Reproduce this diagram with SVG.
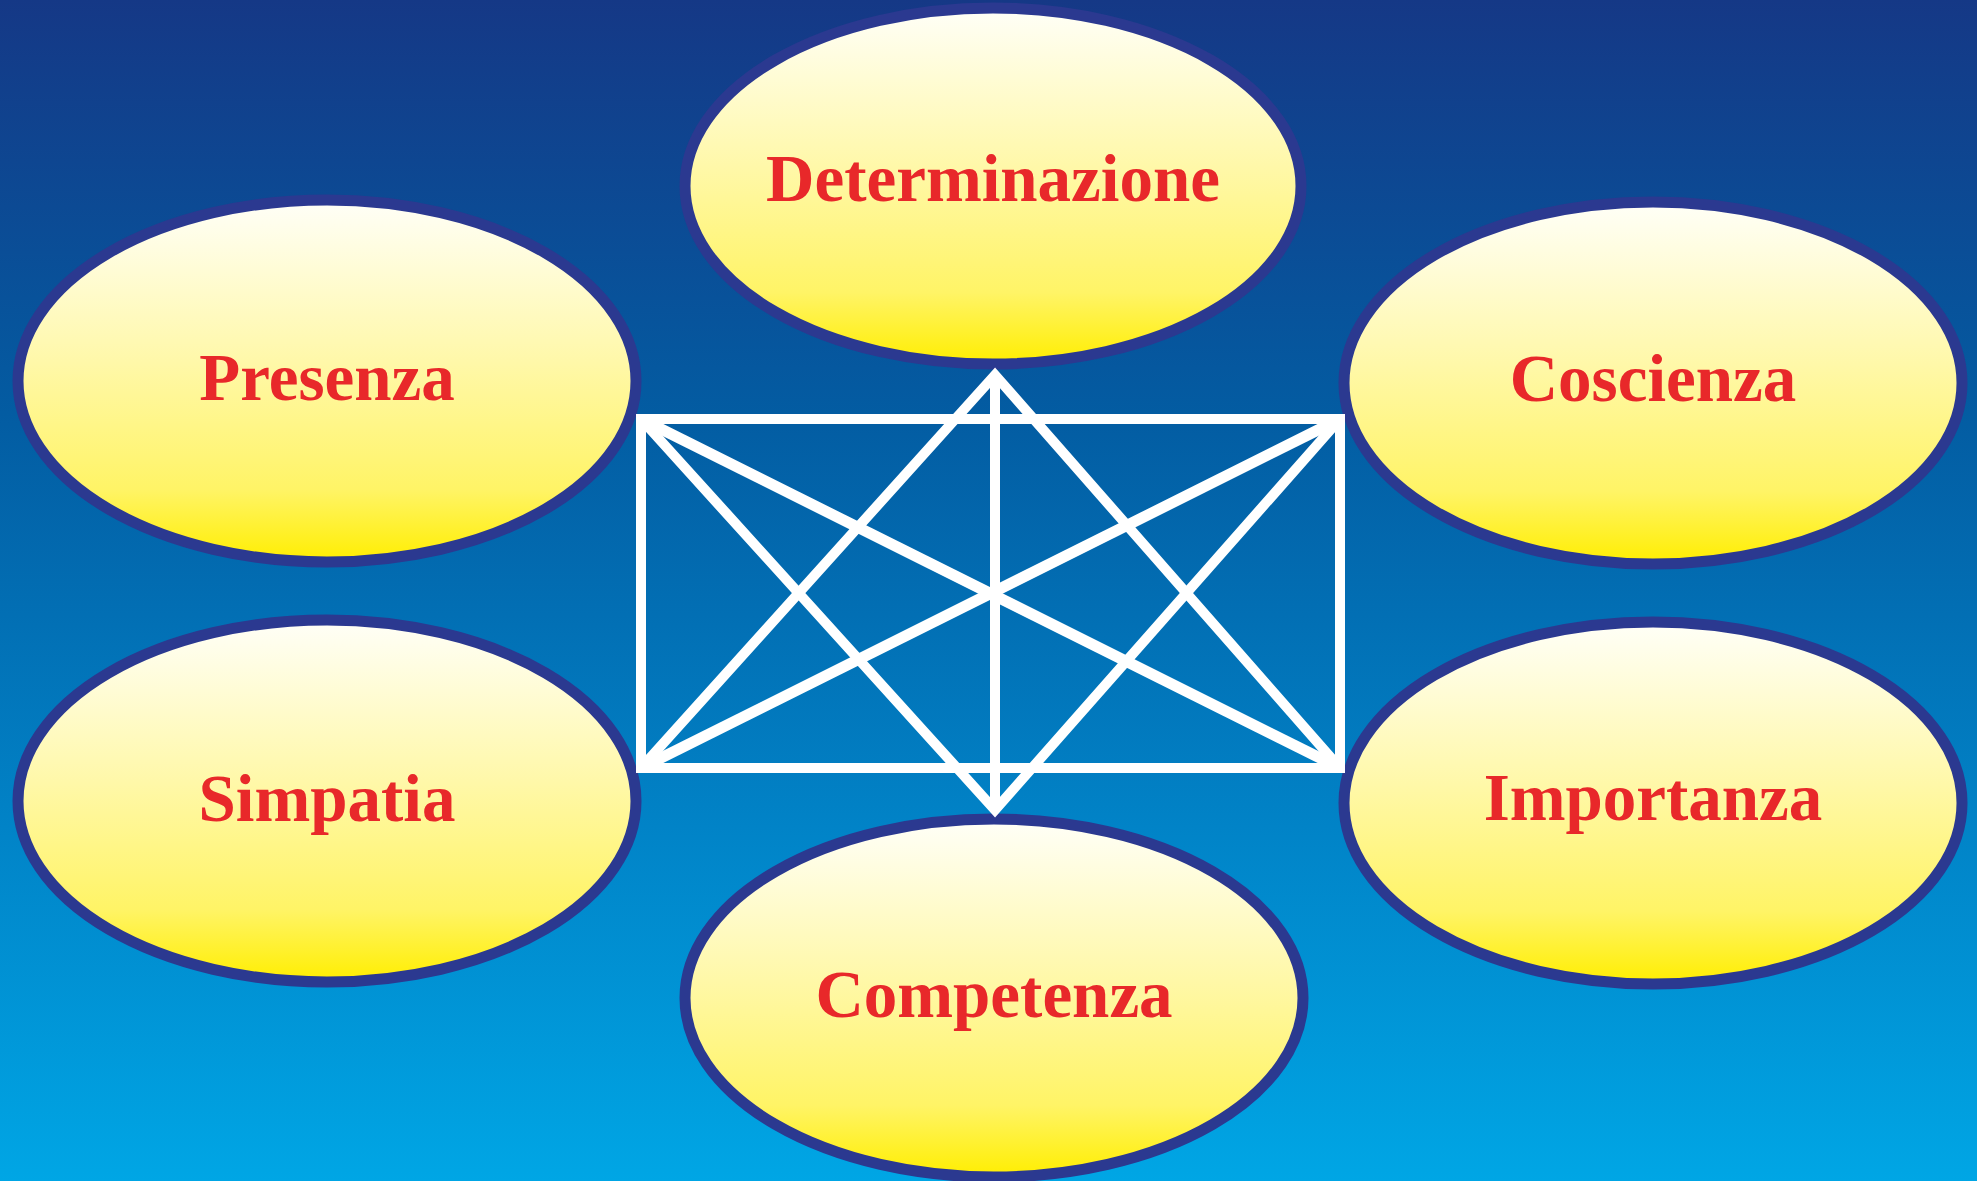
<svg xmlns="http://www.w3.org/2000/svg" width="1977" height="1181" viewBox="0 0 1977 1181">
<style>
.node ellipse{fill:url(#yel);stroke:#2B3990;stroke-width:11}
.node text{font-family:"Liberation Serif","Times New Roman",serif;font-weight:bold;font-size:67px;fill:#E8282A;text-anchor:middle}
#connectors *{fill:none;stroke:#FFFFFF;stroke-width:10;stroke-linejoin:miter;stroke-miterlimit:2}
#connectors .diag{stroke-width:11}
</style>
<defs>
<linearGradient id="bg" x1="0" y1="0" x2="0" y2="1">
<stop offset="0" stop-color="#153886"/>
<stop offset="0.35" stop-color="#035CA2"/>
<stop offset="0.7" stop-color="#0183C7"/>
<stop offset="1" stop-color="#00A6E5"/>
</linearGradient>
<linearGradient id="yel" x1="0" y1="0" x2="0" y2="1">
<stop offset="0" stop-color="#FFFFF8"/>
<stop offset="0.45" stop-color="#FFF8A8"/>
<stop offset="0.8" stop-color="#FFF466"/>
<stop offset="1" stop-color="#FFEE00"/>
</linearGradient>
</defs>
<rect x="0" y="0" width="1977" height="1181" fill="url(#bg)"/>
<g id="node-determinazione" class="node"><ellipse cx="993" cy="186" rx="308" ry="178"/><text x="993" y="201">Determinazione</text></g>
<g id="node-presenza" class="node"><ellipse cx="327" cy="381" rx="309" ry="181"/><text x="327" y="400">Presenza</text></g>
<g id="node-coscienza" class="node"><ellipse cx="1653" cy="383" rx="309" ry="181"/><text x="1653" y="401">Coscienza</text></g>
<g id="node-simpatia" class="node"><ellipse cx="327" cy="801" rx="309" ry="181"/><text x="327" y="821">Simpatia</text></g>
<g id="node-importanza" class="node"><ellipse cx="1653" cy="803" rx="309" ry="181"/><text x="1653" y="820">Importanza</text></g>
<g id="node-competenza" class="node"><ellipse cx="994" cy="998" rx="309" ry="179"/><text x="994" y="1017">Competenza</text></g>
<g id="connectors">
<rect x="641" y="419" width="699" height="349"/>
<line class="diag" x1="641" y1="419" x2="1340" y2="768"/>
<line class="diag" x1="1340" y1="419" x2="641" y2="768"/>
<line x1="995" y1="375" x2="995" y2="810"/>
<polyline points="641,768 995,375 1340,768"/>
<polyline points="641,419 995,810 1340,419"/>
</g>
</svg>
